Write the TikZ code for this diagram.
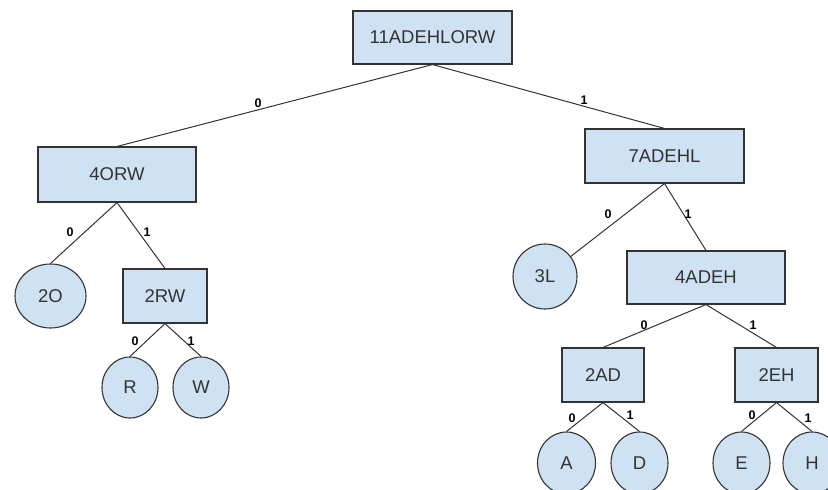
\documentclass[tikz,border=0pt]{standalone}
\usepackage{fontspec}
\setmainfont{Liberation Sans}
\usetikzlibrary{shapes.geometric}
\definecolor{nodefill}{HTML}{CFE2F3}
\definecolor{nodeline}{HTML}{333333}
\definecolor{nodetext}{HTML}{333333}
\begin{document}
\begin{tikzpicture}[x=1pt,y=-1pt,
  box/.style={draw=nodeline,fill=nodefill,line width=1.1pt,rectangle,inner sep=0pt,
    text=nodetext,font=\fontsize{18.5}{20}\selectfont},
  leaf/.style={draw=nodeline,fill=nodefill,line width=1.1pt,ellipse,inner sep=0pt,
    text=nodetext,font=\fontsize{18.5}{20}\selectfont},
  conn/.style={draw=nodeline,line width=1pt},
  lbl/.style={font=\fontsize{12.5}{13}\selectfont\bfseries,text=black,inner sep=0pt}]
\useasboundingbox (0,0) rectangle (828,490);
\clip (0,0) rectangle (828,490);
\fill[white] (0,0) rectangle (828,490);
% nodes
\node[box,minimum width=159pt,minimum height=53pt] (root) at (432.5,37.5) {11ADEHLORW};
\node[box,minimum width=158pt,minimum height=55pt] (n4ORW) at (117,174.5) {4ORW};
\node[box,minimum width=159pt,minimum height=54pt] (n7ADEHL) at (664.5,156) {7ADEHL};
\node[leaf,minimum width=71pt,minimum height=64pt] (n2O) at (50.5,296) {2O};
\node[box,minimum width=84pt,minimum height=54pt] (n2RW) at (165,296) {2RW};
\node[leaf,minimum width=56pt,minimum height=61pt] (nR) at (130,387.5) {R};
\node[leaf,minimum width=56pt,minimum height=61pt] (nW) at (201,387.5) {W};
\node[leaf,minimum width=64pt,minimum height=65pt] (n3L) at (545,276.5) {3L};
\node[box,minimum width=158pt,minimum height=53pt] (n4ADEH) at (706,277.5) {4ADEH};
\node[box,minimum width=82pt,minimum height=54pt] (n2AD) at (603,375) {2AD};
\node[box,minimum width=83pt,minimum height=54pt] (n2EH) at (776.5,375) {2EH};
\node[leaf,minimum width=58pt,minimum height=62pt] (nA) at (566.5,463) {A};
\node[leaf,minimum width=57pt,minimum height=62pt] (nD) at (639.5,463) {D};
\node[leaf,minimum width=57pt,minimum height=62pt] (nE) at (741.5,463) {E};
\node[leaf,minimum width=58pt,minimum height=62pt] (nH) at (812,463) {H};
% connectors
\draw[conn] (root.south) -- (n4ORW.north);
\draw[conn] (root.south) -- (n7ADEHL.north);
\draw[conn] (n4ORW.south) -- (n2O.north);
\draw[conn] (n4ORW.south) -- (n2RW.north);
\draw[conn] (n2RW.south) -- (nR.north);
\draw[conn] (n2RW.south) -- (nW.north);
\draw[conn] (n7ADEHL.south) -- (n3L);
\draw[conn] (n7ADEHL.south) -- (n4ADEH.north);
\draw[conn] (n4ADEH.south) -- (n2AD.north);
\draw[conn] (n4ADEH.south) -- (n2EH.north);
\draw[conn] (n2AD.south) -- (nA.north);
\draw[conn] (n2AD.south) -- (nD.north);
\draw[conn] (n2EH.south) -- (nE.north);
\draw[conn] (n2EH.south) -- (nH.north);
% labels
\node[lbl] (l1) at (258,103) {0};
\node[lbl] (l2) at (584,100) {1};
\node[lbl] (l3) at (70,232) {0};
\node[lbl] (l4) at (147,232) {1};
\node[lbl] (l5) at (135,341) {0};
\node[lbl] (l6) at (191,341) {1};
\node[lbl] (l7) at (608,214) {0};
\node[lbl] (l8) at (688,214) {1};
\node[lbl] (l9) at (644,325) {0};
\node[lbl] (l10) at (753,325) {1};
\node[lbl] (l11) at (572,418) {0};
\node[lbl] (l12) at (630,415) {1};
\node[lbl] (l13) at (752,415) {0};
\node[lbl] (l14) at (808,418) {1};
\end{tikzpicture}
\end{document}
